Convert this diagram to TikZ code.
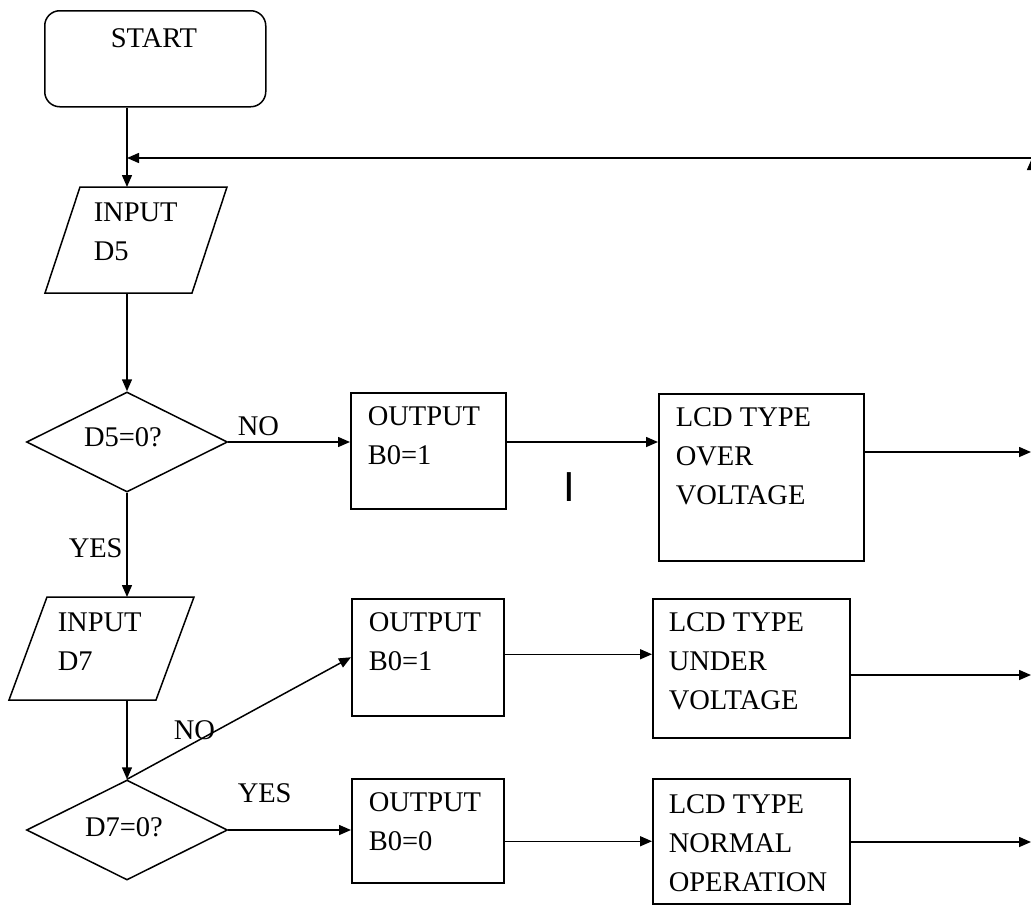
\documentclass[tikz,border=0pt]{standalone}
\usepackage{fontspec}
\setmainfont{Liberation Serif}
\setsansfont{Liberation Sans}
\usetikzlibrary{arrows.meta,shapes.geometric}

\begin{document}
\begin{tikzpicture}[x=1pt, y=-1pt, >={Triangle[length=12pt,width=10pt]}, line width=1.5pt,
  txt/.style={inner sep=0pt, align=left, anchor=north west, font=\fontsize{28.5}{39}\selectfont},
  lbl/.style={inner sep=0pt, anchor=base west, font=\fontsize{28.5}{39}\selectfont},
  box/.style={draw, anchor=north west, inner sep=0pt},
  frame/.style={inner sep=0pt, outer sep=0pt},
  dec/.style={draw, diamond, inner sep=0pt, minimum width=201pt, minimum height=100pt}]
\useasboundingbox (0,0) rectangle (1031,905);
\node[box, rounded corners=15pt, minimum width=221pt, minimum height=96pt] (start) at (44,10) {};
\node[txt, anchor=north] (starttxt) at (154,28) {START};
\node[frame, minimum width=182pt, minimum height=106pt] (in5) at (136,240) {};
\draw ([xshift=35pt]in5.north west) -- (in5.north east) -- ([xshift=-35pt]in5.south east) -- (in5.south west) -- cycle;
\node[txt] (in5txt) at (93,202) {INPUT\\D5};
\node[dec] (dia5) at (127,442) {};
\node[txt, anchor=north] (dia5txt) at ([shift={(-4,-15)}]dia5.center) {D5=0?};
\node[box, minimum width=155pt, minimum height=116pt] (out1) at (350,392) {};
\node[txt] (out1txt) at ([shift={(17,14)}]out1.north west) {OUTPUT\\B0=1};
\node[box, minimum width=205pt, minimum height=167pt] (lcd1) at (658,393) {};
\node[txt] (lcd1txt) at ([shift={(17,14)}]lcd1.north west) {LCD TYPE\\OVER\\VOLTAGE};
\node[inner sep=0pt, anchor=north, font=\sffamily\fontsize{42}{42}\selectfont] (mark) at (569,472) {I};
\node[frame, minimum width=185pt, minimum height=103pt] (in7) at (101.5,648.5) {};
\draw ([xshift=38pt]in7.north west) -- (in7.north east) -- ([xshift=-38pt]in7.south east) -- (in7.south west) -- cycle;
\node[txt] (in7txt) at (57,612) {INPUT\\D7};
\node[dec] (dia7) at (127,830) {};
\node[txt, anchor=north] (dia7txt) at ([shift={(-3,-13)}]dia7.center) {D7=0?};
\node[box, minimum width=152pt, minimum height=117pt] (out2) at (351,598) {};
\node[txt] (out2txt) at ([shift={(17,14)}]out2.north west) {OUTPUT\\B0=1};
\node[box, minimum width=197pt, minimum height=139pt] (lcd2) at (652,598) {};
\node[txt] (lcd2txt) at ([shift={(16,14)}]lcd2.north west) {LCD TYPE\\UNDER\\VOLTAGE};
\node[box, minimum width=152pt, minimum height=104pt] (out3) at (351,778) {};
\node[txt] (out3txt) at ([shift={(17,14)}]out3.north west) {OUTPUT\\B0=0};
\node[box, minimum width=197pt, minimum height=125pt] (lcd3) at (652,778) {};
\node[txt] (lcd3txt) at ([shift={(16,16)}]lcd3.north west) {LCD TYPE\\NORMAL\\OPERATION};
\node[lbl] (no5) at (237,435) {NO};
\node[lbl] (yes5) at (68,557) {YES};
\node[lbl] (no7) at (173,739) {NO};
\node[lbl] (yes7) at (237,802) {YES};
\coordinate (e1) at (1031,452);
\coordinate (e2) at (1031,675);
\coordinate (e3) at (1031,842);
\coordinate (bt) at (1032,842);
\coordinate (rt) at (1032,158);
\draw[->] (start.south -| dia5.north) -- (in5.north -| dia5.north);
\draw[->] (in5.south -| dia5.north) -- (dia5.north);
\draw[->] (dia5.east) -- (dia5.east -| out1.west);
\draw[->] (out1.east |- dia5.east) -- (lcd1.west |- dia5.east);
\draw[->] (lcd1.east |- e1) -- (e1);
\draw[->] (dia5.south) -- (in7.north -| dia5.south);
\draw[->] (in7.south -| dia7.north) -- (dia7.north);
\draw[->] (dia7.north) -- (out2.west);
\draw[->] ([yshift=14pt]out2.east |- lcd2.west) -- ([yshift=14pt]lcd2.west);
\draw[->] (lcd2.east |- e2) -- (e2);
\draw[->] (dia7.east) -- (dia7.east -| out3.west);
\draw[->] (out3.east |- lcd3.west) -- (lcd3.west);
\draw[->] (lcd3.east |- e3) -- (e3);
\draw[->] (bt) -- (rt);
\draw[->] (rt) -- (dia5.north |- rt);
\end{tikzpicture}
\end{document}
